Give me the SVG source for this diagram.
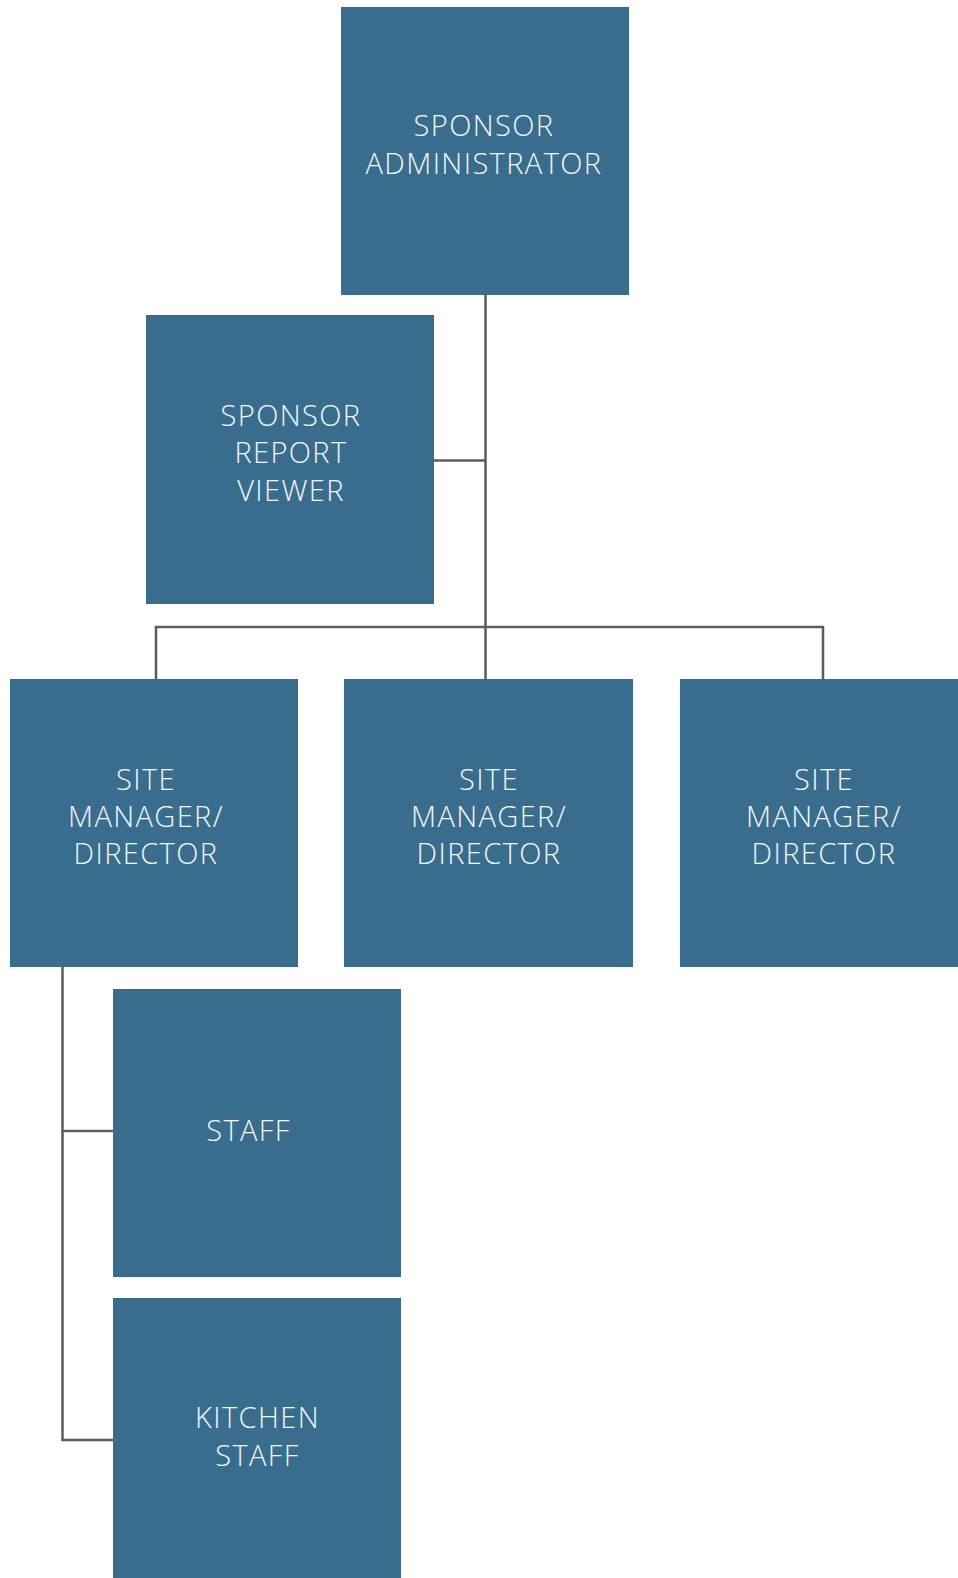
<svg xmlns="http://www.w3.org/2000/svg" width="958" height="1578" viewBox="0 0 958 1578">
<style>
.box{fill:#396d8e}
.lbl{fill:#f4f6f8;font-family:"Open Sans","Liberation Sans",sans-serif;font-size:29px;font-weight:300;letter-spacing:1.4px;text-anchor:middle}
.conn{stroke:#5c5c5c;stroke-width:2.5;fill:none}
</style>
<rect width="958" height="1578" fill="#ffffff"/>
<g id="connectors">
<path class="conn" d="M485.5 295 V679"/>
<path class="conn" d="M434 460.5 H485.5"/>
<path class="conn" d="M156 679 V627 H823 V679"/>
<path class="conn" d="M62.5 967 V1440 H113"/>
<path class="conn" d="M62.5 1131 H113"/>
</g>
<g id="sponsor-admin">
<rect class="box" x="341" y="7" width="288" height="288"/>
<text class="lbl" x="484" y="136">SPONSOR</text>
<text class="lbl" x="484" y="173.5">ADMINISTRATOR</text>
</g>
<g id="report-viewer">
<rect class="box" x="146" y="315" width="288" height="289"/>
<text class="lbl" x="291" y="426">SPONSOR</text>
<text class="lbl" x="291" y="463">REPORT</text>
<text class="lbl" x="291" y="500.5">VIEWER</text>
</g>
<g id="site1">
<rect class="box" x="10" y="679" width="288" height="288"/>
<text class="lbl" x="146" y="789.5">SITE</text>
<text class="lbl" x="146" y="826.5">MANAGER/</text>
<text class="lbl" x="146" y="863.5">DIRECTOR</text>
</g>
<g id="site2">
<rect class="box" x="344" y="679" width="289" height="288"/>
<text class="lbl" x="489" y="789.5">SITE</text>
<text class="lbl" x="489" y="826.5">MANAGER/</text>
<text class="lbl" x="489" y="863.5">DIRECTOR</text>
</g>
<g id="site3">
<rect class="box" x="680" y="679" width="290" height="288"/>
<text class="lbl" x="824" y="789.5">SITE</text>
<text class="lbl" x="824" y="826.5">MANAGER/</text>
<text class="lbl" x="824" y="863.5">DIRECTOR</text>
</g>
<g id="staff">
<rect class="box" x="113" y="989" width="288" height="288"/>
<text class="lbl" x="248.5" y="1141">STAFF</text>
</g>
<g id="kitchen-staff">
<rect class="box" x="113" y="1298" width="288" height="290"/>
<text class="lbl" x="257.5" y="1428">KITCHEN</text>
<text class="lbl" x="257.5" y="1466">STAFF</text>
</g>
</svg>
